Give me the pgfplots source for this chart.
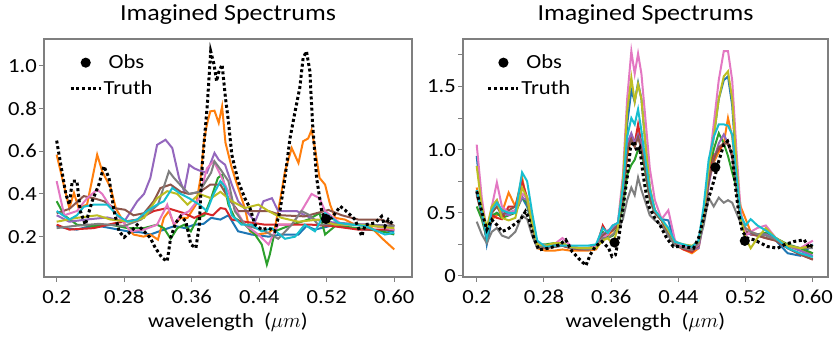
\documentclass[border=0pt]{standalone}
\usepackage{fontspec}
\setmainfont[FakeStretch=1.13]{Carlito}
\usepackage{pgfplots}
\usepackage{pgfplotstable}
\pgfplotsset{compat=1.18}
\definecolor{axgray}{HTML}{7F7F7F}
\definecolor{cB}{HTML}{1F77B4}
\definecolor{cO}{HTML}{FF7F0E}
\definecolor{cG}{HTML}{2CA02C}
\definecolor{cR}{HTML}{D62728}
\definecolor{cP}{HTML}{9467BD}
\definecolor{cBr}{HTML}{8C564B}
\definecolor{cPk}{HTML}{E377C2}
\definecolor{cGy}{HTML}{7F7F7F}
\definecolor{cOl}{HTML}{BCBD22}
\definecolor{cC}{HTML}{17BECF}

\pgfplotstableread{
x B O G R P Br Pk Gy Ol C
0.200 0.95 0.70 0.55 0.68 0.66 0.64 1.04 0.43 0.87 0.68
0.206 0.55 0.50 0.45 0.50 0.50 0.48 0.62 0.33 0.55 0.50
0.212 0.25 0.35 0.30 0.33 0.30 0.30 0.35 0.26 0.38 0.30
0.218 0.45 0.45 0.48 0.48 0.55 0.50 0.55 0.35 0.55 0.52
0.224 0.50 0.48 0.50 0.46 0.60 0.55 0.74 0.38 0.60 0.58
0.230 0.48 0.50 0.46 0.45 0.50 0.48 0.55 0.32 0.46 0.52
0.238 0.50 0.66 0.48 0.55 0.48 0.52 0.50 0.30 0.44 0.50
0.246 0.52 0.55 0.50 0.55 0.52 0.55 0.52 0.35 0.46 0.50
0.254 0.62 0.78 0.62 0.75 0.62 0.65 0.65 0.48 0.70 0.82
0.260 0.55 0.58 0.58 0.62 0.60 0.62 0.62 0.45 0.62 0.75
0.266 0.40 0.40 0.40 0.42 0.42 0.42 0.45 0.32 0.42 0.50
0.272 0.26 0.22 0.25 0.24 0.26 0.24 0.26 0.22 0.25 0.28
0.282 0.23 0.20 0.25 0.22 0.24 0.22 0.24 0.24 0.24 0.23
0.292 0.23 0.20 0.26 0.24 0.25 0.23 0.25 0.25 0.26 0.24
0.302 0.24 0.21 0.25 0.24 0.26 0.24 0.30 0.26 0.26 0.24
0.312 0.22 0.20 0.22 0.22 0.23 0.22 0.24 0.22 0.23 0.24
0.322 0.21 0.20 0.22 0.21 0.22 0.21 0.22 0.22 0.22 0.24
0.332 0.21 0.20 0.22 0.21 0.22 0.21 0.22 0.21 0.22 0.24
0.342 0.22 0.21 0.24 0.22 0.23 0.22 0.23 0.22 0.22 0.25
0.350 0.33 0.30 0.35 0.40 0.33 0.32 0.30 0.30 0.28 0.38
0.356 0.35 0.32 0.30 0.33 0.36 0.35 0.33 0.30 0.30 0.34
0.362 0.40 0.36 0.32 0.38 0.38 0.36 0.40 0.33 0.25 0.40
0.368 0.42 0.40 0.38 0.40 0.40 0.40 0.42 0.36 0.38 0.42
0.374 0.70 0.60 0.55 0.62 0.65 0.62 0.80 0.45 0.75 0.70
0.379 1.20 0.95 0.80 1.00 1.05 1.00 1.40 0.60 1.30 1.10
0.384 1.47 1.10 0.88 1.12 1.13 1.08 1.78 0.70 1.57 1.25
0.388 1.38 1.05 0.92 1.05 1.05 1.02 1.60 0.64 1.38 1.20
0.392 1.53 1.15 1.00 1.20 1.12 1.10 1.76 0.78 1.52 1.32
0.396 1.40 1.05 0.98 1.05 1.05 1.00 1.60 0.68 1.40 1.15
0.400 1.10 0.90 0.85 0.90 0.90 0.88 1.30 0.60 1.10 0.95
0.406 0.70 0.65 0.60 0.65 0.62 0.62 0.85 0.48 0.70 0.68
0.412 0.50 0.52 0.50 0.52 0.50 0.50 0.60 0.44 0.52 0.52
0.420 0.45 0.45 0.44 0.44 0.45 0.44 0.45 0.40 0.45 0.45
0.428 0.44 0.33 0.33 0.34 0.34 0.34 0.52 0.32 0.36 0.38
0.436 0.26 0.25 0.26 0.25 0.26 0.25 0.28 0.24 0.27 0.27
0.446 0.22 0.21 0.23 0.21 0.23 0.22 0.23 0.22 0.25 0.25
0.456 0.20 0.18 0.21 0.19 0.21 0.20 0.21 0.21 0.24 0.23
0.464 0.28 0.22 0.26 0.24 0.22 0.24 0.25 0.26 0.27 0.28
0.470 0.50 0.45 0.48 0.46 0.42 0.45 0.50 0.40 0.50 0.55
0.476 0.85 0.75 0.80 0.78 0.72 0.75 0.85 0.62 0.85 0.92
0.482 1.10 0.90 1.00 0.95 0.92 0.92 1.20 0.55 1.10 1.10
0.488 1.40 0.98 1.13 1.00 1.05 1.02 1.55 0.62 1.40 1.20
0.494 1.55 1.05 1.05 1.05 1.12 1.05 1.78 0.58 1.58 1.20
0.499 1.58 1.25 0.95 1.05 1.05 1.05 1.78 0.60 1.62 1.19
0.504 1.35 1.10 0.82 0.95 0.95 0.95 1.55 0.58 1.40 1.12
0.509 0.85 0.80 0.70 0.75 0.75 0.72 1.00 0.50 0.90 0.80
0.514 0.45 0.55 0.45 0.45 0.45 0.45 0.52 0.42 0.45 0.48
0.520 0.35 0.45 0.35 0.35 0.34 0.35 0.32 0.38 0.30 0.40
0.526 0.33 0.35 0.33 0.33 0.33 0.34 0.35 0.35 0.22 0.45
0.534 0.32 0.33 0.33 0.32 0.33 0.32 0.38 0.33 0.30 0.40
0.544 0.33 0.34 0.34 0.30 0.33 0.30 0.40 0.32 0.38 0.36
0.556 0.28 0.30 0.30 0.28 0.29 0.28 0.30 0.29 0.30 0.30
0.570 0.18 0.24 0.25 0.22 0.24 0.22 0.24 0.24 0.24 0.22
0.585 0.16 0.20 0.22 0.17 0.20 0.17 0.22 0.22 0.22 0.18
0.600 0.25 0.18 0.18 0.13 0.16 0.13 0.28 0.22 0.24 0.15
}\rightdata

\pgfplotsset{
  spec/.style={
    scale only axis, height=238pt, anchor=south west,
    axis line style={draw=axgray, line width=1.1pt},
    tick style={draw=axgray, line width=1pt},
    tick align=outside, major tick length=5pt, minor tick length=5pt,
    xtick pos=lower, ytick pos=left,
    xtick={0.2,0.28,0.36,0.44,0.52,0.6},
    xticklabels={0.2,0.28,0.36,0.44,0.52,0.60},
    /pgf/number format/assume math mode=true,
    ticklabel style={font=\fontsize{20}{24}\selectfont, inner sep=2pt},
    xticklabel style={yshift=-6pt},
    xlabel={wavelength\ \ ($\mu m$)},
    xlabel style={font=\fontsize{20}{24}\selectfont, at={(axis description cs:0.5,0)}, anchor=base, yshift=-51pt},
    title={Imagined Spectrums},
    every axis title shift=0pt,
    title style={font=\fontsize{23}{27}\selectfont, at={(axis description cs:0.5,1)}, anchor=base, yshift=18pt},
    legend style={draw=none, fill=none, font=\fontsize{20}{24}\selectfont, anchor=north west, inner sep=0pt, row sep=7pt, nodes={inner sep=1.5pt}},
    legend cell align=left, reverse legend,
    every axis plot/.append style={line width=2pt},
  },
  truthstyle/.style={black, line width=3pt, dash pattern=on 3pt off 2.6pt,
    legend image code/.code={\draw[##1] (0pt,0pt) -- (30pt,0pt);}},
  obsstyle/.style={only marks, mark=*, mark size=4pt, black,
    legend image code/.code={\draw[##1, mark repeat=2, mark phase=2] plot coordinates {(0pt,0pt) (15pt,0pt) (30pt,0pt)};}},
}

\begin{document}
\begin{tikzpicture}
\path[use as bounding box] (0,0) rectangle (838pt,339pt);
% ---------------- left panel ----------------
\begin{axis}[spec, at={(44pt,62pt)}, width=368pt,
  xmin=0.185, xmax=0.621, ymin=0.011, ymax=1.126,
  ytick={0.2,0.4,0.6,0.8,1.0}, yticklabels={0.2,0.4,0.6,0.8,1.0},
  legend style={at={(axis description cs:0.068,0.94)}}]
\addplot[cB, forget plot] coordinates {(0.2,0.25)(0.21,0.24)(0.224,0.233)(0.236,0.245)(0.25,0.25)(0.264,0.24)(0.284,0.225)(0.3,0.22)(0.311,0.21)(0.325,0.23)(0.34,0.25)(0.352,0.24)(0.363,0.256)(0.374,0.26)(0.383,0.288)(0.394,0.28)(0.4035,0.30)(0.415,0.225)(0.431,0.21)(0.451,0.20)(0.4665,0.21)(0.4865,0.21)(0.496,0.25)(0.506,0.233)(0.53,0.256)(0.55,0.24)(0.5655,0.233)(0.585,0.23)(0.6,0.225)};
\addplot[cO, forget plot] coordinates {(0.2,0.584)(0.208,0.45)(0.215,0.334)(0.2205,0.405)(0.226,0.334)(0.236,0.35)(0.248,0.584)(0.254,0.506)(0.264,0.428)(0.27,0.334)(0.281,0.256)(0.291,0.21)(0.303,0.20)(0.311,0.21)(0.32,0.186)(0.327,0.288)(0.333,0.32)(0.339,0.256)(0.347,0.288)(0.355,0.288)(0.365,0.35)(0.3705,0.475)(0.3745,0.647)(0.378,0.725)(0.382,0.787)(0.387,0.79)(0.392,0.733)(0.396,0.81)(0.4,0.64)(0.4075,0.522)(0.415,0.428)(0.423,0.334)(0.429,0.225)(0.437,0.21)(0.451,0.218)(0.4585,0.24)(0.4645,0.366)(0.4705,0.506)(0.4785,0.615)(0.4865,0.545)(0.492,0.647)(0.498,0.66)(0.502,0.70)(0.506,0.615)(0.5115,0.475)(0.518,0.444)(0.524,0.35)(0.53,0.288)(0.5415,0.28)(0.5535,0.256)(0.5655,0.25)(0.5735,0.24)(0.585,0.194)(0.6,0.14)};
\addplot[cG, forget plot] coordinates {(0.2,0.366)(0.209,0.30)(0.224,0.256)(0.244,0.25)(0.264,0.256)(0.284,0.24)(0.3035,0.24)(0.319,0.256)(0.327,0.24)(0.335,0.19)(0.343,0.24)(0.351,0.256)(0.359,0.225)(0.367,0.288)(0.375,0.30)(0.383,0.38)(0.391,0.475)(0.396,0.49)(0.4035,0.35)(0.411,0.288)(0.423,0.256)(0.435,0.21)(0.443,0.163)(0.449,0.069)(0.4525,0.116)(0.4585,0.225)(0.4785,0.256)(0.498,0.28)(0.5115,0.31)(0.518,0.21)(0.53,0.25)(0.5575,0.24)(0.585,0.225)(0.6,0.21)};
\addplot[cR, forget plot] coordinates {(0.2,0.256)(0.215,0.233)(0.244,0.24)(0.27,0.264)(0.2955,0.28)(0.315,0.32)(0.331,0.334)(0.351,0.31)(0.363,0.288)(0.375,0.31)(0.385,0.30)(0.394,0.334)(0.4,0.33)(0.4075,0.28)(0.423,0.27)(0.447,0.256)(0.4785,0.256)(0.502,0.256)(0.526,0.25)(0.5575,0.233)(0.6,0.233)};
\addplot[cP, forget plot] coordinates {(0.2,0.30)(0.215,0.27)(0.235,0.28)(0.26,0.29)(0.28,0.27)(0.2955,0.366)(0.3035,0.40)(0.311,0.475)(0.319,0.63)(0.329,0.654)(0.337,0.615)(0.345,0.475)(0.351,0.413)(0.357,0.537)(0.363,0.52)(0.369,0.51)(0.378,0.50)(0.387,0.592)(0.392,0.56)(0.3995,0.537)(0.4075,0.444)(0.415,0.366)(0.423,0.33)(0.435,0.27)(0.445,0.366)(0.455,0.38)(0.4625,0.32)(0.4745,0.32)(0.4845,0.32)(0.494,0.30)(0.506,0.28)(0.518,0.27)(0.55,0.26)(0.6,0.25)};
\addplot[cBr, forget plot] coordinates {(0.2,0.31)(0.215,0.33)(0.232,0.39)(0.244,0.38)(0.256,0.366)(0.268,0.334)(0.281,0.326)(0.291,0.30)(0.3035,0.31)(0.315,0.366)(0.323,0.428)(0.335,0.444)(0.347,0.41)(0.357,0.40)(0.37,0.41)(0.382,0.444)(0.394,0.444)(0.4035,0.38)(0.415,0.32)(0.431,0.32)(0.451,0.32)(0.4665,0.30)(0.494,0.295)(0.522,0.325)(0.538,0.30)(0.5575,0.28)(0.585,0.28)(0.6,0.25)};
\addplot[cPk, forget plot] coordinates {(0.2,0.46)(0.209,0.30)(0.224,0.32)(0.236,0.38)(0.248,0.42)(0.254,0.40)(0.262,0.35)(0.272,0.30)(0.288,0.225)(0.3035,0.233)(0.319,0.256)(0.331,0.35)(0.339,0.256)(0.347,0.30)(0.357,0.32)(0.369,0.38)(0.378,0.52)(0.386,0.553)(0.392,0.506)(0.4035,0.41)(0.411,0.334)(0.423,0.256)(0.439,0.21)(0.451,0.163)(0.4625,0.256)(0.4785,0.256)(0.49,0.32)(0.502,0.40)(0.5115,0.38)(0.518,0.32)(0.538,0.256)(0.5655,0.256)(0.6,0.233)};
\addplot[cGy, forget plot] coordinates {(0.2,0.24)(0.22,0.25)(0.25,0.26)(0.28,0.25)(0.3,0.28)(0.32,0.35)(0.333,0.506)(0.339,0.475)(0.347,0.44)(0.357,0.40)(0.369,0.41)(0.383,0.50)(0.387,0.553)(0.395,0.51)(0.4035,0.46)(0.411,0.32)(0.423,0.256)(0.447,0.225)(0.4625,0.19)(0.4785,0.256)(0.49,0.32)(0.5,0.30)(0.51,0.256)(0.54,0.26)(0.6,0.25)};
\addplot[cOl, forget plot] coordinates {(0.2,0.27)(0.224,0.288)(0.248,0.30)(0.264,0.28)(0.288,0.27)(0.3035,0.288)(0.319,0.38)(0.331,0.413)(0.343,0.40)(0.355,0.35)(0.369,0.40)(0.383,0.38)(0.394,0.41)(0.4075,0.366)(0.423,0.334)(0.439,0.35)(0.451,0.32)(0.4665,0.288)(0.4865,0.27)(0.51,0.28)(0.53,0.256)(0.5575,0.256)(0.6,0.24)};
\addplot[cC, forget plot] coordinates {(0.2,0.32)(0.215,0.28)(0.224,0.30)(0.232,0.34)(0.244,0.35)(0.26,0.35)(0.272,0.30)(0.284,0.27)(0.2955,0.28)(0.307,0.32)(0.319,0.35)(0.327,0.366)(0.337,0.428)(0.347,0.40)(0.357,0.38)(0.369,0.35)(0.378,0.32)(0.386,0.40)(0.394,0.46)(0.4,0.43)(0.4075,0.30)(0.419,0.256)(0.431,0.256)(0.443,0.225)(0.455,0.24)(0.4705,0.19)(0.4825,0.20)(0.494,0.256)(0.506,0.225)(0.518,0.31)(0.534,0.264)(0.55,0.256)(0.5655,0.25)(0.589,0.21)(0.6,0.218)};
\addplot[truthstyle] coordinates {(0.2,0.65)(0.211,0.397)(0.215,0.35)(0.2185,0.46)(0.224,0.46)(0.228,0.32)(0.234,0.256)(0.242,0.366)(0.25,0.444)(0.256,0.53)(0.262,0.475)(0.268,0.32)(0.274,0.225)(0.28,0.197)(0.288,0.225)(0.2955,0.256)(0.3035,0.225)(0.311,0.194)(0.317,0.147)(0.325,0.10)(0.331,0.085)(0.335,0.194)(0.341,0.264)(0.347,0.295)(0.353,0.272)(0.359,0.163)(0.365,0.147)(0.369,0.256)(0.3725,0.537)(0.3785,0.818)(0.3825,1.068)(0.3865,1.006)(0.3895,0.928)(0.392,0.97)(0.396,1.006)(0.4,0.85)(0.4035,0.74)(0.4075,0.584)(0.415,0.46)(0.423,0.38)(0.429,0.334)(0.435,0.256)(0.443,0.233)(0.451,0.24)(0.4585,0.225)(0.4645,0.32)(0.4705,0.475)(0.4765,0.662)(0.4825,0.787)(0.488,0.896)(0.492,1.037)(0.496,1.068)(0.5,0.975)(0.503,0.74)(0.508,0.475)(0.514,0.32)(0.518,0.28)(0.526,0.288)(0.536,0.342)(0.5415,0.325)(0.5475,0.303)(0.5535,0.28)(0.5615,0.202)(0.5655,0.256)(0.577,0.264)(0.585,0.295)(0.589,0.249)(0.593,0.28)(0.599,0.256)};
\addlegendentry{Truth}
\addplot[obsstyle] coordinates {(0.519,0.283)};
\addlegendentry{\hspace{5pt}Obs}
\end{axis}
% ---------------- right panel ----------------
\begin{axis}[spec, at={(463pt,62pt)}, width=365pt,
  xmin=0.1837, xmax=0.618, ymin=-0.008, ymax=1.876,
  ytick={0,0.5,1.0,1.5}, yticklabels={0,0.5,1.0,1.5},
  minor ytick={0.25,0.75,1.25,1.75},
  legend style={at={(axis description cs:0.065,0.94)}}]
\addplot[cB, forget plot] table[x=x, y=B] {\rightdata};
\addplot[cO, forget plot] table[x=x, y=O] {\rightdata};
\addplot[cG, forget plot] table[x=x, y=G] {\rightdata};
\addplot[cR, forget plot] table[x=x, y=R] {\rightdata};
\addplot[cP, forget plot] table[x=x, y=P] {\rightdata};
\addplot[cBr, forget plot] table[x=x, y=Br] {\rightdata};
\addplot[cPk, forget plot] table[x=x, y=Pk] {\rightdata};
\addplot[cGy, forget plot] table[x=x, y=Gy] {\rightdata};
\addplot[cOl, forget plot] table[x=x, y=Ol] {\rightdata};
\addplot[cC, forget plot] table[x=x, y=C] {\rightdata};
\addplot[truthstyle] coordinates {(0.2,0.67)(0.206,0.511)(0.212,0.366)(0.218,0.445)(0.224,0.405)(0.23,0.353)(0.236,0.366)(0.244,0.405)(0.252,0.445)(0.258,0.511)(0.262,0.458)(0.268,0.30)(0.274,0.207)(0.286,0.22)(0.298,0.246)(0.306,0.286)(0.3135,0.194)(0.321,0.141)(0.33,0.083)(0.335,0.167)(0.341,0.233)(0.349,0.273)(0.357,0.22)(0.361,0.154)(0.365,0.167)(0.369,0.30)(0.373,0.485)(0.379,0.776)(0.383,1.014)(0.387,1.067)(0.391,0.987)(0.394,1.014)(0.398,0.80)(0.4038,0.564)(0.412,0.458)(0.418,0.405)(0.426,0.30)(0.434,0.233)(0.446,0.233)(0.458,0.22)(0.464,0.30)(0.47,0.458)(0.476,0.617)(0.482,0.75)(0.488,0.908)(0.494,1.04)(0.4985,1.067)(0.504,0.96)(0.508,0.697)(0.512,0.485)(0.516,0.353)(0.522,0.30)(0.53,0.286)(0.538,0.26)(0.546,0.233)(0.558,0.22)(0.5655,0.246)(0.5775,0.273)(0.5897,0.286)(0.596,0.22)(0.6,0.26)};
\addlegendentry{Truth}
\addplot[obsstyle] coordinates {(0.364,0.265)(0.484,0.86)(0.519,0.278)};
\addlegendentry{\hspace{5pt}Obs}
\end{axis}
\end{tikzpicture}
\end{document}
